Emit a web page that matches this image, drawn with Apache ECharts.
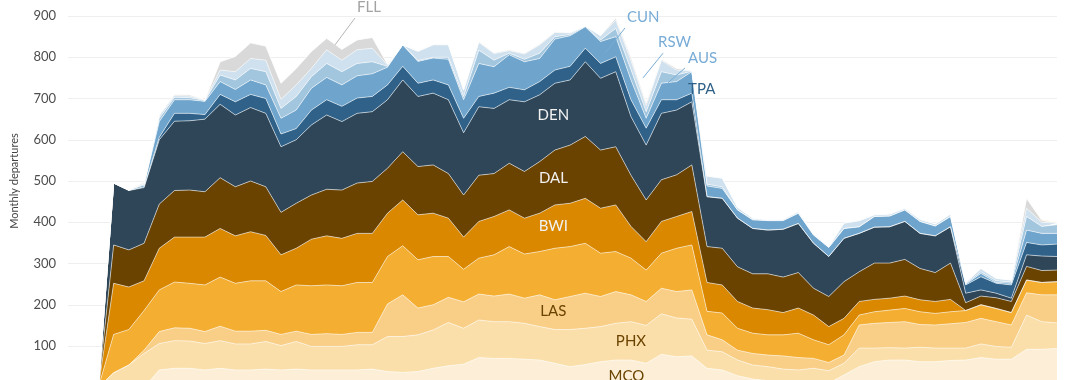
<!DOCTYPE html>
<html><head><meta charset="utf-8">
<script src="https://cdn.jsdelivr.net/npm/echarts@6/dist/echarts.min.js"></script>
<style>html,body{margin:0;padding:0;background:#fff}#c{width:1080px;height:380px}</style>
</head><body><div id="c"></div>
<script>
// monthly slots on the x axis (index labels); the series begin from zero at slot -1
const months = ['-3','-2','-1',
 '0','1','2','3','4','5','6','7','8','9',
 '10','11','12','13','14','15','16','17','18','19',
 '20','21','22','23','24','25','26','27','28','29',
 '30','31','32','33','34','35','36','37','38','39',
 '40','41','42','43','44','45','46','47','48','49',
 '50','51','52','53','54','55','56','57','58','59',
 '60','61','62'];
const yTicks = [100,200,300,400,500,600,700,800,900];

// each array: start value (zero), then months 0..62
const MCO = [0,
 0,0,0,42,46,46,42,46,42,42,
 44,42,44,42,42,42,42,44,38,36,
 38,46,52,56,72,70,70,68,66,58,
 50,55,62,66,66,58,80,74,76,46,
 42,28,20,16,14,12,14,10,30,50,
 62,66,66,62,62,65,66,72,68,68,
 92,92,94];
const PHX = [0,
 35,54,82,64,67,66,64,67,63,63,
 67,59,67,57,57,57,61,59,85,87,
 89,93,105,87,91,89,89,87,81,82,
 90,88,85,89,93,92,98,94,89,44,
 44,38,34,34,30,30,32,30,28,45,
 33,30,29,35,33,30,29,33,31,29,
 83,67,62];
const LAS = [0,
 0,0,8,29,31,31,29,35,31,31,
 27,27,25,29,31,29,30,30,79,101,
 65,61,61,64,63,62,67,61,77,72,
 80,85,73,77,65,58,62,64,71,37,
 29,24,28,28,32,30,24,20,20,56,
 60,61,64,55,56,59,62,62,60,54,
 54,65,68];
const OTHER = [0,
 93,86,96,101,111,109,113,119,116,122,
 120,104,112,118,118,118,121,121,115,119,
 117,117,99,79,87,100,115,107,105,125,
 121,121,105,97,89,76,85,105,109,57,
 65,53,49,49,51,59,45,43,49,24,
 28,30,32,31,28,29,29,33,32,30,
 31,30,32];
const BWI = [0,
 124,103,72,101,109,112,116,118,115,119,
 110,89,89,113,119,115,119,119,105,111,
 109,105,93,78,89,93,89,87,93,105,
 105,109,109,113,77,69,77,77,81,70,
 68,65,61,61,54,61,60,44,40,33,
 30,29,30,29,29,30,0,0,0,0,
 0,0,0];
const DAL = [0,
 93,90,91,107,113,114,110,123,119,123,
 118,103,109,107,113,117,122,126,109,117,
 117,117,108,102,112,104,113,113,125,133,
 141,150,141,141,124,101,101,101,113,87,
 89,84,83,87,86,86,65,73,89,72,
 88,85,89,76,70,88,19,21,26,27,
 33,29,28];
const DEN = [0,
 150,144,135,156,168,168,176,178,174,178,
 178,159,154,170,180,166,169,169,166,174,
 170,174,179,151,166,158,154,169,162,162,
 158,181,174,182,142,133,161,157,153,121,
 121,118,110,106,116,119,109,97,105,93,
 87,88,92,85,89,88,23,15,11,8,
 28,35,33];
const TPA = [0,
 0,0,2,6,19,18,11,24,32,32,
 36,31,27,36,37,37,37,37,36,33,
 32,32,36,35,25,37,30,29,32,32,
 33,33,36,36,41,41,33,25,21,0,
 0,0,0,0,0,0,0,0,0,0,
 0,0,0,0,0,0,20,32,24,32,
 30,27,30];
const AUS = [0,
 0,1,4,38,33,33,32,31,30,35,
 33,38,45,53,54,52,54,55,43,52,
 53,53,62,45,80,64,79,68,56,75,
 74,52,53,49,48,24,40,44,52,26,
 24,20,21,23,21,25,20,22,24,16,
 26,26,28,29,24,25,2,8,2,4,
 30,28,26];
const RSW = [0,
 0,0,2,8,6,5,2,16,23,28,
 32,24,33,28,34,32,30,29,2,0,
 2,2,5,8,32,16,4,6,13,6,
 3,1,4,20,25,16,28,16,1,4,
 4,0,0,0,0,0,0,0,0,0,
 0,0,0,0,0,0,2,4,4,3,
 33,17,21];
const CUN = [0,
 0,0,2,6,4,4,1,12,20,24,
 28,22,28,20,33,28,33,33,3,0,
 22,30,30,15,19,16,6,13,20,10,
 4,1,10,20,22,15,27,12,1,20,
 21,6,4,2,3,4,3,2,13,15,
 4,5,4,5,5,6,2,8,6,5,
 20,10,4];
const FLL = [0,
 0,0,3,2,3,3,1,20,37,38,
 34,39,40,41,28,26,24,26,2,0,
 1,1,1,2,2,2,2,2,2,2,
 1,0,1,5,8,7,3,4,1,0,
 0,0,0,0,0,0,0,0,0,0,
 0,0,0,0,0,0,0,0,0,0,
 24,4,0];
const NEWEST = [0,
 0,0,0,0,0,0,0,0,0,0,
 0,0,0,0,0,0,0,0,0,0,
 0,0,0,0,0,0,0,0,0,0,
 0,0,0,0,0,0,0,0,0,0,
 0,0,0,0,0,0,0,0,0,0,
 0,0,0,0,0,0,0,0,0,0,
 0,1,3];

const layers = [
  {name:'MCO', data:MCO, color:'#fdefd7'},
  {name:'PHX', data:PHX, color:'#fbdfaa'},
  {name:'LAS', data:LAS, color:'#f9cf87'},
  {name:'Other', data:OTHER, color:'#f4ae31'},
  {name:'BWI', data:BWI, color:'#d98800'},
  {name:'DAL', data:DAL, color:'#6b4300'},
  {name:'DEN', data:DEN, color:'#2e4657'},
  {name:'TPA', data:TPA, color:'#2f6189'},
  {name:'AUS', data:AUS, color:'#6fa5cc'},
  {name:'RSW', data:RSW, color:'#a3c6df'},
  {name:'CUN', data:CUN, color:'#cfe1ee'},
  {name:'FLL', data:FLL, color:'#d9d9d9'},
  {name:'New', data:NEWEST, color:'#f5a316'}
];

// annotation anchors: [category index (fractional), value]
const inLabels = [
  {text:'DEN', x:31.9, y:660, color:'#f2f2f2'},
  {text:'DAL', x:31.9, y:507, color:'#f2f2f2'},
  {text:'BWI', x:31.9, y:391, color:'#f2f2f2'},
  {text:'LAS', x:31.9, y:185, color:'#6b4300'},
  {text:'PHX', x:37.0, y:112, color:'#6b4300'},
  {text:'MCO', x:36.7, y:28, color:'#6b4300'}
];
const callouts = [
  {text:'FLL', tx:19.0, ty:922, from:[17.55,830], to:[18.86,895], color:'#a3a3a3', line:'#b5b5b5'},
  {text:'CUN', tx:36.74, ty:898, from:[35.29,810], to:[36.61,871], color:'#78acd6', line:'#78acd6'},
  {text:'RSW', tx:38.78, ty:837, from:[37.79,750], to:[39.11,810], color:'#78acd6', line:'#78acd6'},
  {text:'AUS', tx:40.75, ty:798, from:[39.43,738], to:[40.55,774], color:'#78acd6', line:'#78acd6'},
  {text:'TPA', tx:40.75, ty:723, color:'#2f6189'}
];

// slots '-3','-2' empty, start value at slot '-1', months from slot '0' on
const toSlots = arr => [null, null, arr[0]].concat(arr.slice(1));

const chart = echarts.init(document.getElementById('c'), null, {renderer:'canvas'});
chart.setOption({
  animation:false,
  grid:{left:68, right:23, top:16, bottom:-7.25, containLabel:false, outerBoundsMode:'none'},
  xAxis:{type:'category', data:months, boundaryGap:false, show:false},
  yAxis:{type:'value', min:0, max:900, interval:100,
    axisLine:{show:false}, axisTick:{show:false},
    splitLine:{lineStyle:{color:'#efefef', width:1}},
    axisLabel:{margin:12, color:'#4d4d4d', fontSize:13, fontFamily:'Lato',
      formatter:v => yTicks.includes(v) ? String(v) : ''}
  },
  series: layers.map(l => ({
    name:l.name, type:'line', stack:'total', symbol:'none', smooth:false,
    data: toSlots(l.data),
    lineStyle:{color:'rgba(255,255,255,0.55)', width:1},
    areaStyle:{color:l.color, opacity:1},
    itemStyle:{color:l.color},
    emphasis:{disabled:true}
  }))
});

// convert fractional category position + value to pixels via the axes
function px(p) {
  const i0 = Math.floor(p[0]), f = p[0] - i0;
  const a = chart.convertToPixel({gridIndex:0}, [i0, p[1]]);
  const b = chart.convertToPixel({gridIndex:0}, [i0 + 1, p[1]]);
  return [a[0] + (b[0] - a[0]) * f, a[1]];
}
const g = [];
g.push({type:'text', x:14, y:181, rotation:Math.PI/2,
  style:{text:'Monthly departures', font:'11px Lato', fill:'#444',
    align:'center', verticalAlign:'middle', textAlign:'center', textVerticalAlign:'middle'}});
inLabels.forEach(l => {
  const p = px([l.x, l.y]);
  g.push({type:'text', x:p[0], y:p[1], z:100,
    style:{text:l.text, font:'15px Lato', fill:l.color,
      align:'center', verticalAlign:'middle', textAlign:'center', textVerticalAlign:'middle'}});
});
callouts.forEach(c => {
  if (c.from) {
    const a = px(c.from), b = px(c.to);
    g.push({type:'line', z:100, shape:{x1:a[0], y1:a[1], x2:b[0], y2:b[1]},
      style:{stroke:c.line, lineWidth:1}});
  }
  const t = px([c.tx, c.ty]);
  g.push({type:'text', x:t[0], y:t[1], z:100,
    style:{text:c.text, font:'15px Lato', fill:c.color,
      align:'left', verticalAlign:'middle', textAlign:'left', textVerticalAlign:'middle'}});
});
chart.setOption({graphic:g});
</script>
</body></html>
